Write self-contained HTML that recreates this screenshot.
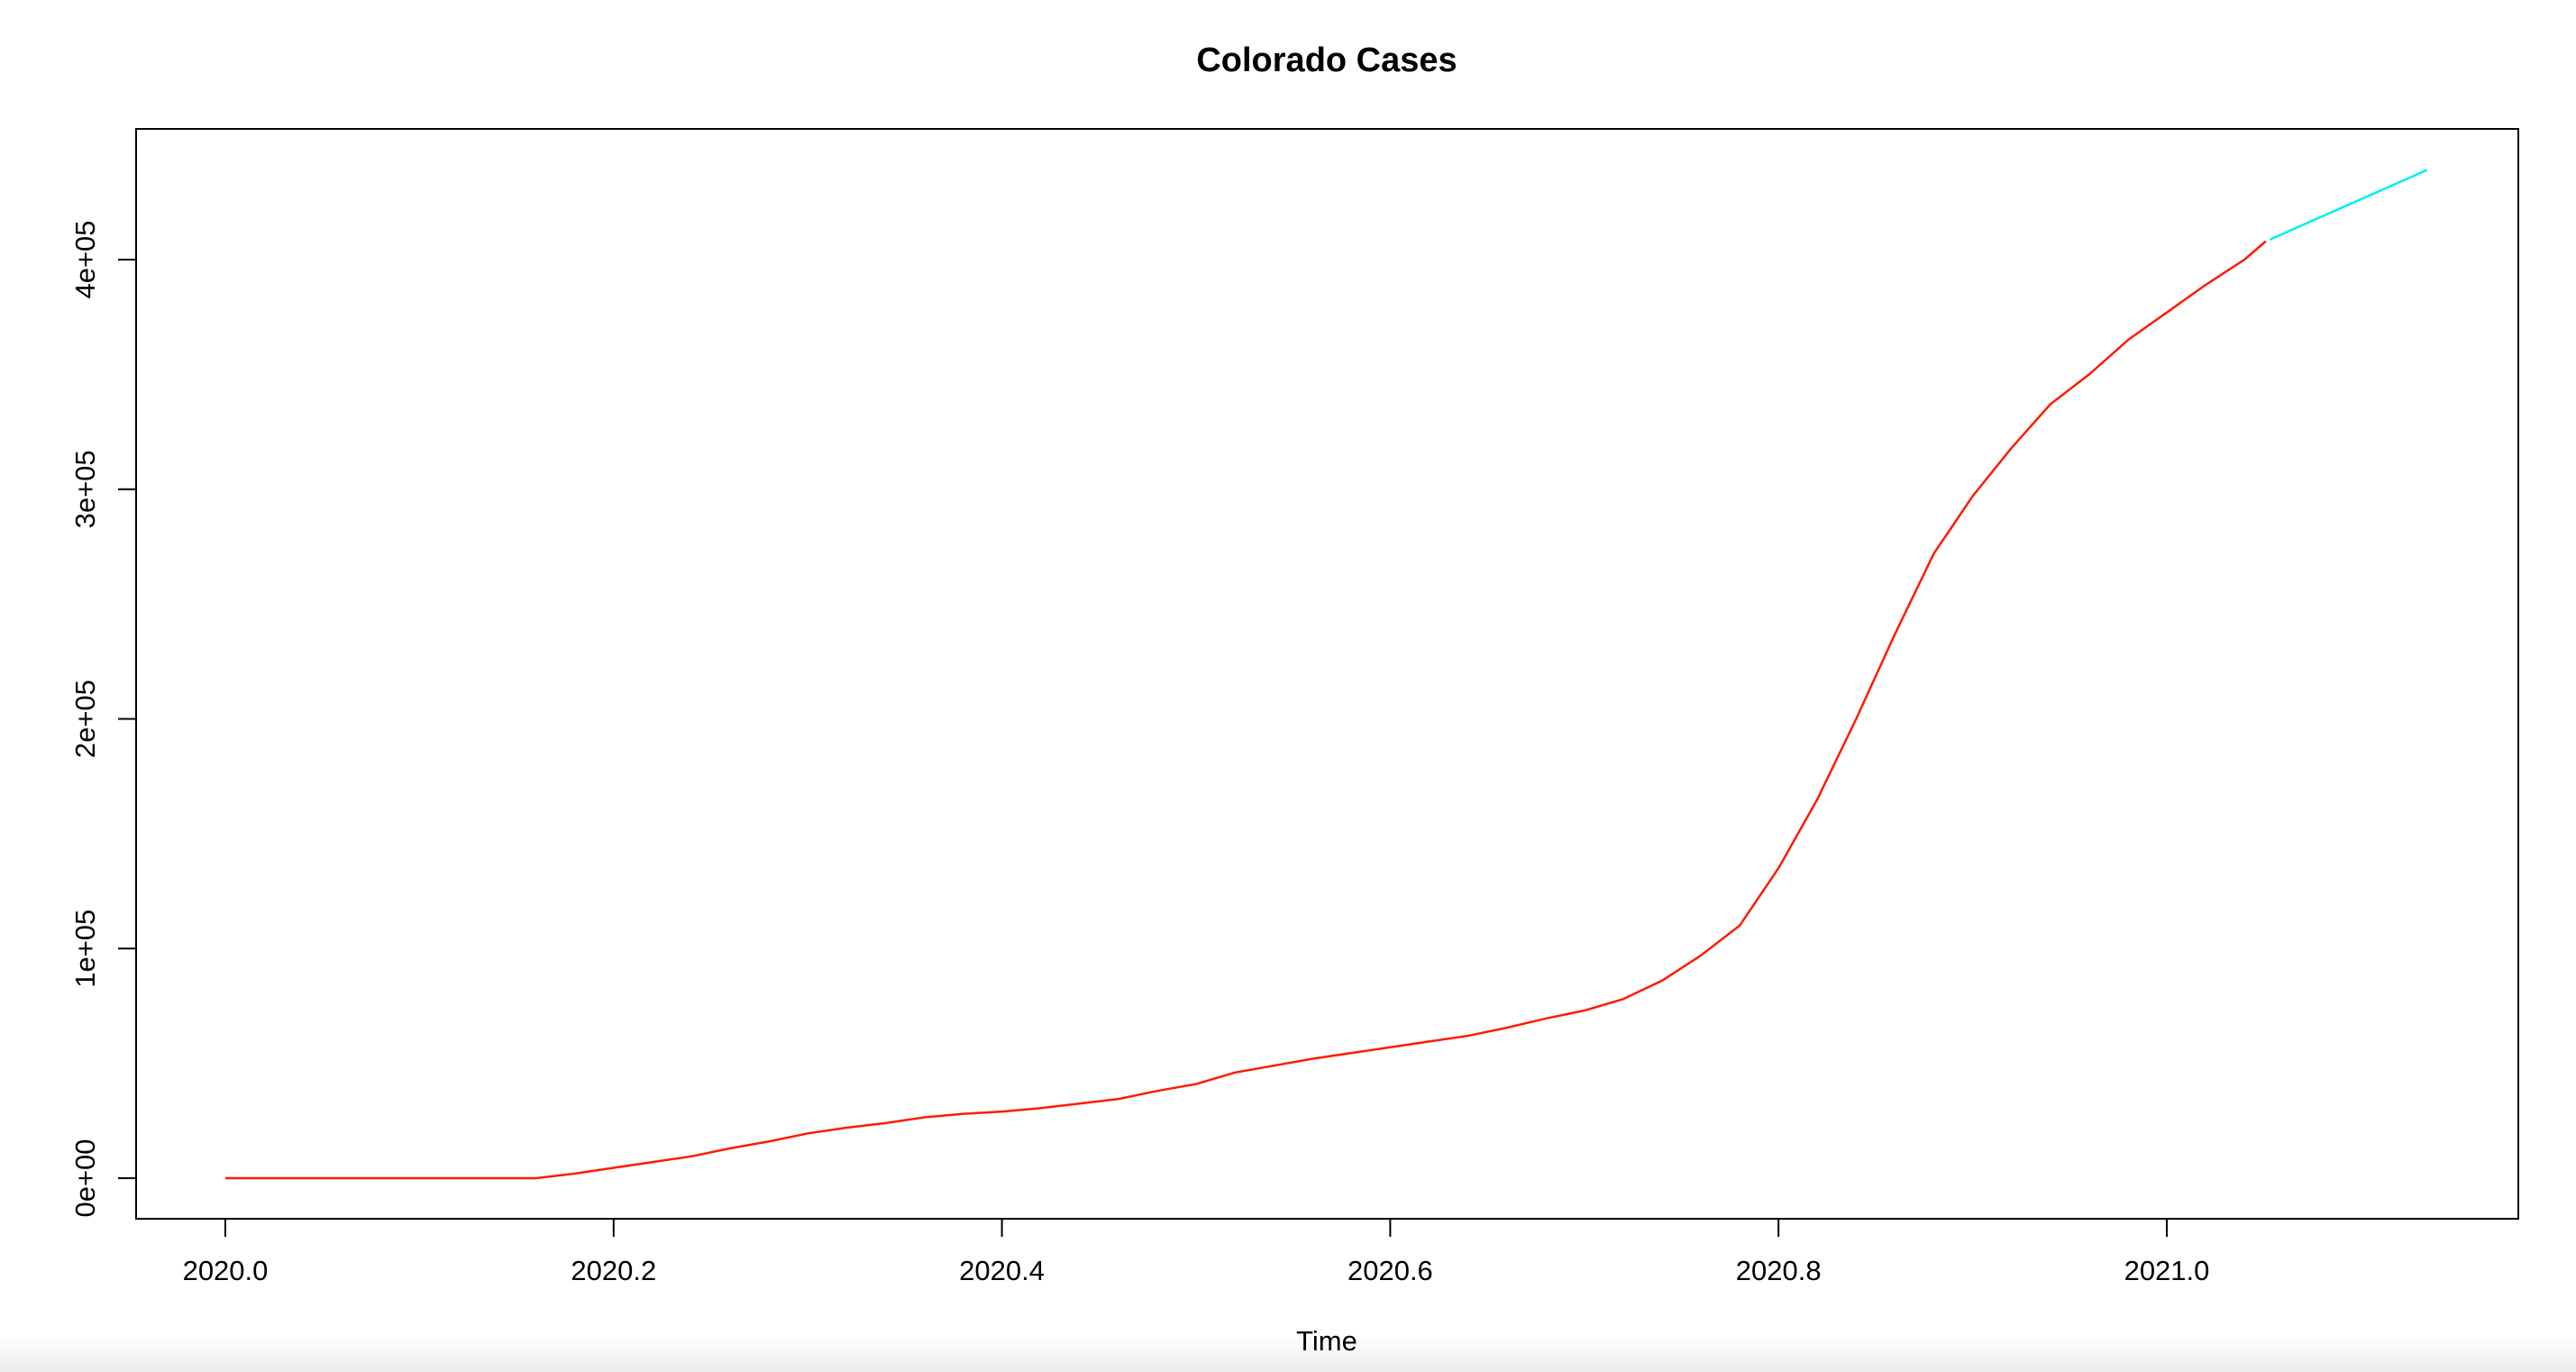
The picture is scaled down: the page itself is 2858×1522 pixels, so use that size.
<!DOCTYPE html>
<html><head><meta charset="utf-8"><style>
body{margin:0;background:#fff;}
svg{display:block;font-family:"Liberation Sans",Arial,sans-serif;}
</style></head><body>
<svg width="2858" height="1522" viewBox="0 0 2858 1522">
<defs><linearGradient id="sh" x1="0" y1="0" x2="0" y2="1"><stop offset="0" stop-color="#fff"/><stop offset="1" stop-color="#ececec"/></linearGradient></defs>
<rect x="0" y="1480" width="2858" height="42" fill="url(#sh)"/>
<text x="1472" y="79" text-anchor="middle" font-weight="bold" font-size="38">Colorado Cases</text>
<rect x="151" y="143" width="2643" height="1209" fill="none" stroke="#000" stroke-width="2"/>
<g id="axes"></g>
<g id="series"></g>
<text x="1472" y="1498" text-anchor="middle" font-size="31">Time</text>
</svg>
<script>
const xTicks=[2020.0,2020.2,2020.4,2020.6,2020.8,2021.0];
const xTickLabels=["2020.0","2020.2","2020.4","2020.6","2020.8","2021.0"];
const yTicks=[0,100000,200000,300000,400000];
const yTickLabels=["0e+00","1e+05","2e+05","3e+05","4e+05"];
const obsTimes=[2020.00,2020.16,2020.18,2020.20,2020.22,2020.24,2020.26,2020.28,2020.30,2020.32,2020.34,2020.36,2020.38,2020.40,2020.42,2020.44,2020.46,2020.48,2020.50,2020.52,2020.54,2020.56,2020.58,2020.60,2020.62,2020.64,2020.66,2020.68,2020.70,2020.72,2020.74,2020.76,2020.78,2020.80,2020.82,2020.84,2020.86,2020.88,2020.90,2020.92,2020.94,2020.96,2020.98,2021.00,2021.02,2021.04,2021.051];
const obsCases=[0,0,2000,4500,7000,9500,13000,16000,19500,22000,24000,26500,28000,29000,30500,32500,34500,38000,41000,46000,49000,52000,54500,57000,59500,62000,65500,69500,73000,78000,86000,97000,110000,135000,165000,200000,237000,272000,297000,318000,337000,350000,365000,377000,389000,400000,408000];
const fcTimes=[2021.053,2021.134];
const fcCases=[408700,439000];
const X=t=>250+(t-2020)*2154;
const Y=v=>1307-v*254.75/100000;
const ns="http://www.w3.org/2000/svg";
const ax=document.getElementById('axes'), se=document.getElementById('series');
function mk(tag,attrs,parent){const e=document.createElementNS(ns,tag);for(const k in attrs)e.setAttribute(k,attrs[k]);parent.appendChild(e);return e;}
xTicks.forEach((t,i)=>{
  const l=mk('line',{x1:X(t),x2:X(t),y1:1352,y2:1372,stroke:'#000','stroke-width':2},ax);
  
  
  const tx=mk('text',{x:X(t),y:1420,'text-anchor':'middle','font-size':31},ax);
  tx.textContent=xTickLabels[i];
  
  
});
yTicks.forEach((v,i)=>{
  const l=mk('line',{x1:131,x2:151,y1:Y(v),y2:Y(v),stroke:'#000','stroke-width':2},ax);
  
  
  const tx=mk('text',{x:0,y:0,'text-anchor':'middle','font-size':31,transform:`translate(105,${Y(v)}) rotate(-90)`},ax);
  tx.textContent=yTickLabels[i];
  
  
});
const p1=mk('polyline',{points:obsTimes.map((t,i)=>X(t)+','+Y(obsCases[i])).join(' '),fill:'none',stroke:'#ff1a00','stroke-width':2.5,'stroke-linejoin':'round'},se);


const p2=mk('polyline',{points:fcTimes.map((t,i)=>X(t)+','+Y(fcCases[i])).join(' '),fill:'none',stroke:'#00f0f0','stroke-width':2.5},se);


</script>
</body></html>
